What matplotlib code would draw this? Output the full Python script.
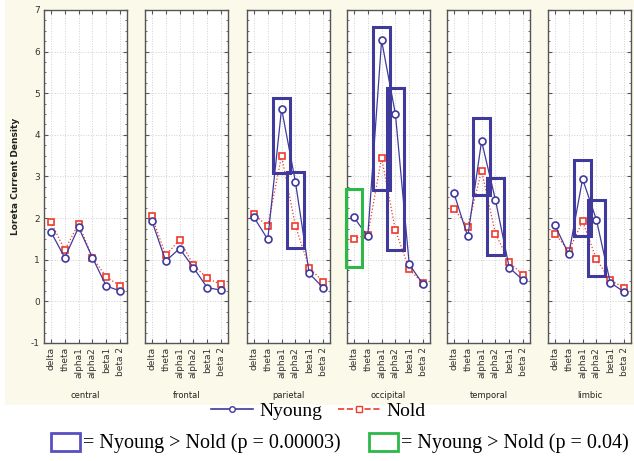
import matplotlib
matplotlib.use("Agg")
import matplotlib.pyplot as plt
from matplotlib.patches import Rectangle
from matplotlib.lines import Line2D
from matplotlib.ticker import MultipleLocator

plt.rcParams["axes.unicode_minus"] = False

bands = ["delta", "theta", "alpha1", "alpha2", "beta1", "beta 2"]
regions = ["central", "frontal", "parietal", "occipital", "temporal", "limbic"]

nyoung = [
    [1.67, 1.05, 1.78, 1.05, 0.37, 0.25],
    [1.93, 0.97, 1.27, 0.81, 0.33, 0.27],
    [2.02, 1.49, 4.63, 2.87, 0.67, 0.33],
    [2.02, 1.56, 6.27, 4.50, 0.89, 0.41],
    [2.60, 1.56, 3.85, 2.44, 0.81, 0.51],
    [1.83, 1.13, 2.94, 1.96, 0.45, 0.23],
]
nold = [
    [1.91, 1.23, 1.87, 1.05, 0.59, 0.37],
    [2.04, 1.11, 1.48, 0.87, 0.55, 0.41],
    [2.10, 1.80, 3.50, 1.81, 0.81, 0.47],
    [1.51, 1.60, 3.45, 1.71, 0.77, 0.43],
    [2.22, 1.79, 3.14, 1.63, 0.95, 0.63],
    [1.63, 1.21, 1.93, 1.01, 0.51, 0.33],
]

# significance boxes: (region, band, low, high, kind)
boxes = [
    (2, 2, 3.08, 4.89, "strong"),
    (2, 3, 1.28, 3.12, "strong"),
    (3, 2, 2.68, 6.59, "strong"),
    (3, 3, 1.23, 5.12, "strong"),
    (3, 0, 0.83, 2.70, "weak"),
    (4, 2, 2.56, 4.41, "strong"),
    (4, 3, 1.12, 2.96, "strong"),
    (5, 2, 1.56, 3.40, "strong"),
    (5, 3, 0.60, 2.44, "strong"),
]

blue = "#3f3a9c"
red = "#f03a2a"
green = "#2db84a"
cream = "#fbfaea"
W, H = 634, 461

fig = plt.figure(figsize=(W / 100, H / 100), dpi=100)
fig.patch.set_facecolor("white")
fig.patches.append(Rectangle((5 / W, (H - 405) / H), 629 / W, 405 / H,
                             transform=fig.transFigure, facecolor=cream,
                             edgecolor="none", zorder=-10))

lefts = [44, 145, 247, 347, 447, 548]
x = list(range(len(bands)))
for i, reg in enumerate(regions):
    ax = fig.add_axes([lefts[i] / W, (H - 343) / H, 83 / W, 333 / H])
    ax.set_facecolor("white")
    ax.set_xlim(-0.5, 5.5)
    ax.set_ylim(-1, 7)
    ax.grid(True, color="#d0d0d0", linestyle=":", linewidth=0.7)
    ax.set_axisbelow(True)
    ax.plot(x, nyoung[i], color=blue, lw=0.9, marker="o", ms=5,
            mfc="white", mec=blue, mew=1.2, zorder=4)
    ax.plot(x, nold[i], color=red, lw=0.9, ls=":", marker="s", ms=5,
            mfc="white", mec=red, mew=1.2, zorder=3)
    for (r, b, lo, hi, kind) in boxes:
        if r != i:
            continue
        col = blue if kind == "strong" else green
        ax.add_patch(Rectangle((b - 0.6, lo), 1.2, hi - lo, fill=False,
                               edgecolor=col, lw=2.2, zorder=5, clip_on=False))
    ax.set_xticks(x)
    ax.set_xticklabels(bands, rotation=90, fontsize=6.5, color="#333333")
    ax.yaxis.set_major_locator(MultipleLocator(1))
    ax.yaxis.set_minor_locator(MultipleLocator(0.25))
    ax.tick_params(direction="in", top=True, right=True, length=3,
                   width=0.8, color="#555555", pad=3)
    ax.tick_params(which="minor", direction="in", left=True, right=True,
                   length=1.5, color="#555555")
    for s in ax.spines.values():
        s.set_color("#555555")
        s.set_linewidth(1.0)
    if i == 0:
        ax.set_yticks(range(-1, 8))
        ax.tick_params(axis="y", labelsize=6.5, labelcolor="#333333")
        ax.set_ylabel("Loreta Current Density", fontsize=6.5,
                      fontweight="bold", color="#222222", labelpad=8)
    else:
        ax.tick_params(axis="y", labelleft=False)
    fig.text((lefts[i] + 41.5) / W, (H - 395) / H, reg, ha="center",
             va="center", fontsize=6, color="#222222")

serif = "Liberation Serif"
h1 = [Line2D([], [], color=blue, lw=1.2, marker="o", ms=4, mfc="white", mec=blue),
      Line2D([], [], color=red, lw=1.2, ls="--", marker="s", ms=4, mfc="white", mec=red)]
fig.legend(h1, ["Nyoung", "Nold"], loc="center", bbox_to_anchor=(318 / W, (H - 411) / H),
           ncol=2, frameon=False, prop={"family": serif, "size": 14},
           handlelength=2.2, handletextpad=0.3, columnspacing=0.8,
           borderpad=0, borderaxespad=0)

h2 = [Rectangle((0, 0), 1, 1, fill=False, edgecolor="#5a4fc0", lw=2),
      Rectangle((0, 0), 1, 1, fill=False, edgecolor=green, lw=2)]
fig.legend(h2, ["= Nyoung > Nold (p = 0.00003)", "= Nyoung > Nold (p = 0.04)"],
           loc="center", bbox_to_anchor=(340 / W, (H - 443) / H), ncol=2,
           frameon=False, prop={"family": serif, "size": 14.5},
           handlelength=1.45, handleheight=1.0, handletextpad=0.15,
           columnspacing=1.4, borderpad=0, borderaxespad=0)

fig.savefig("out.png", dpi=100)
